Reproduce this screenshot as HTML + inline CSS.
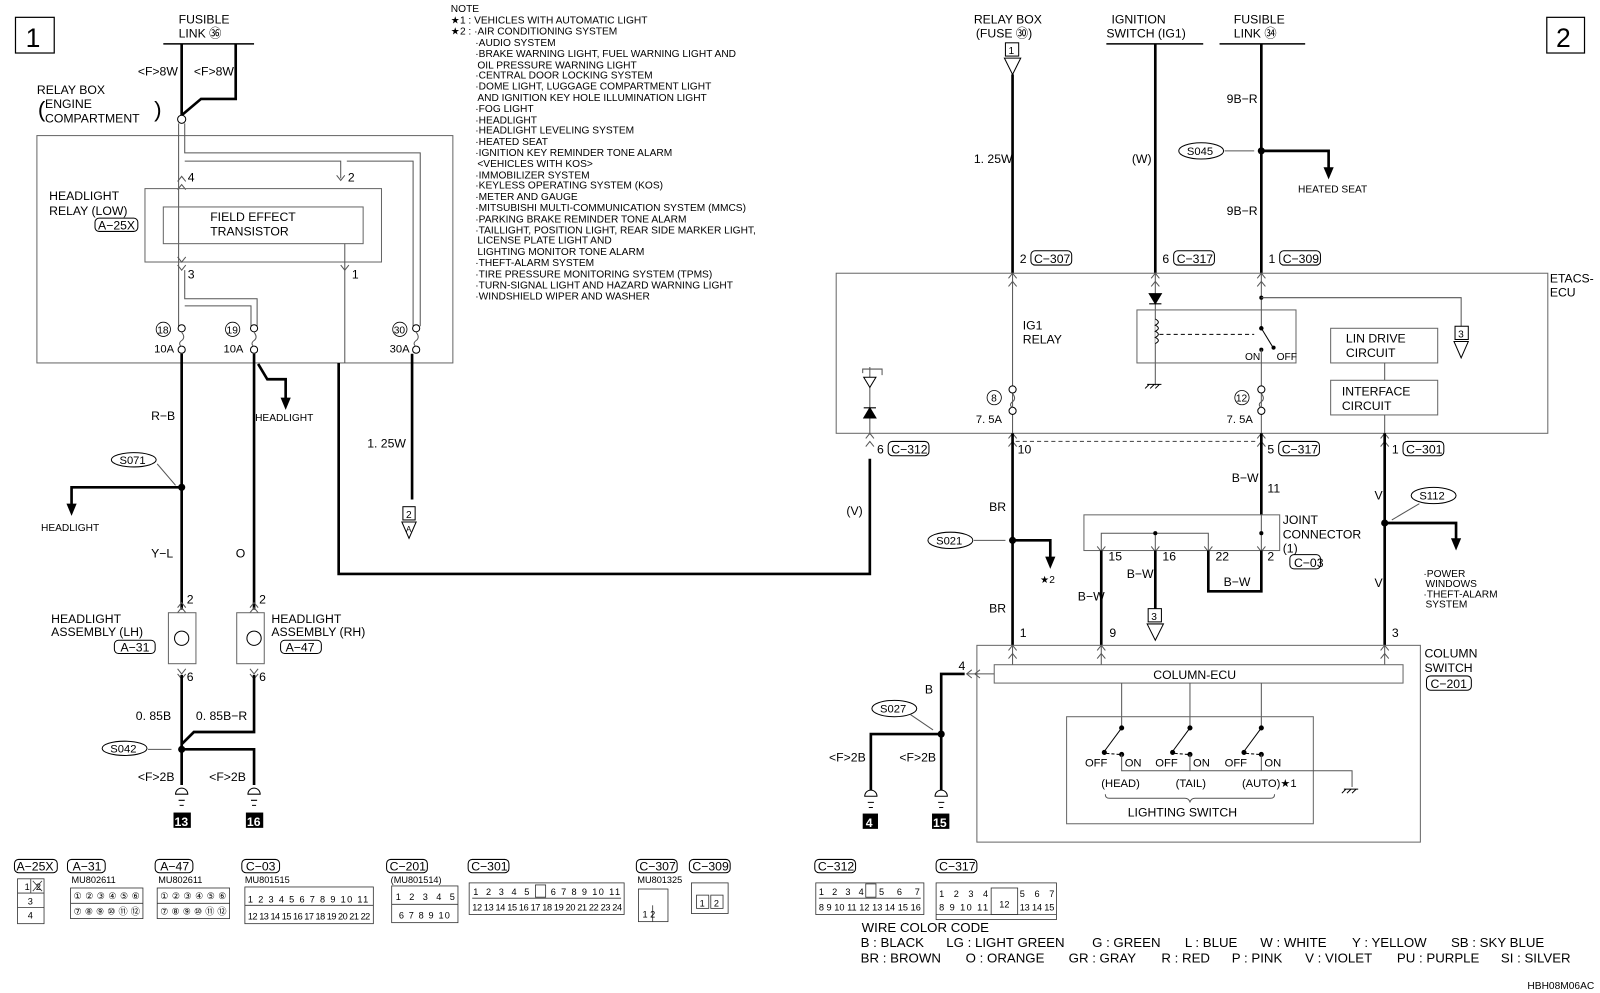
<!DOCTYPE html>
<html><head><meta charset="utf-8">
<style>
html,body{margin:0;padding:0;background:#fff;}
svg{display:block;}
text{font-family:"Liberation Sans",sans-serif;fill:#000;}
.s{font-size:12px;}
.n{font-size:10px;}
.c{font-family:"Liberation Sans Narrow","Liberation Sans",sans-serif;font-size:12px;}
.k{font-family:"Liberation Sans Narrow","Liberation Sans",sans-serif;font-size:9px;}
.th{stroke:#000;stroke-width:2.6;fill:none;}
.tn{stroke:#555;stroke-width:1;fill:none;}
.bx{stroke:#666;stroke-width:1;fill:none;}
.cb{stroke:#333;stroke-width:0.8;fill:none;}
</style></head>
<body>
<svg width="1600" height="993" viewBox="0 0 1569 974" xmlns="http://www.w3.org/2000/svg">
<rect x="0" y="0" width="1569" height="974" fill="#fff"/>
<rect x="15" y="17" width="38" height="35" fill="none" stroke="#000" stroke-width="1.2"/>
<text x="25" y="46" style="font-size:26px">1</text>
<rect x="1517" y="17" width="37" height="35" fill="none" stroke="#000" stroke-width="1.2"/>
<text x="1526" y="46" style="font-size:26px">2</text>

<text x="175" y="23" class="s">FUSIBLE</text>
<text x="175" y="37" class="s">LINK ㊱</text>
<line x1="160" y1="43" x2="249" y2="43" stroke="#000" stroke-width="1.5"/>
<polyline class="th" points="178,43 178,113"/>
<polyline class="th" points="231,43 231,97 197,97 178,113"/>
<text x="135" y="74" class="c">&lt;F&gt;8W</text>
<text x="190" y="74" class="c">&lt;F&gt;8W</text>
<circle cx="178" cy="117" r="4" fill="#fff" stroke="#000"/>
<text x="36" y="92" class="s">RELAY BOX</text>
<text x="37" y="115" style="font-size:22px">(</text>
<text x="44" y="106" class="s">ENGINE</text>
<text x="44" y="120" class="s">COMPARTMENT</text>
<text x="151" y="115" style="font-size:22px">)</text>

<rect x="36" y="133" width="408" height="223" class="bx"/>
<polyline class="tn" points="175,121 175,320"/>
<polyline class="tn" points="181,121 181,150 412,150 412,320"/>
<polyline class="tn" points="181,158 334,158 334,175"/>
<polyline class="tn" points="340,158 405,158 405,320"/>
<path class="tn" d="M174,178 l4,-5 l4,5 M174,186 l4,-5 l4,5"/>
<text x="184" y="178" class="s">4</text>
<path class="tn" d="M330,172 l4,5 l4,-5"/>
<text x="341" y="178" class="s">2</text>
<rect x="142" y="185" width="232" height="72" class="bx"/>
<text x="48" y="196" class="s">HEADLIGHT</text>
<text x="48" y="211" class="s">RELAY (LOW)</text>
<rect x="93" y="214" width="42" height="13" rx="4" fill="none" stroke="#000"/>
<text x="96" y="225" class="c">A−25X</text>
<rect x="160" y="203" width="196" height="36" class="bx"/>
<text x="206" y="217" class="s">FIELD EFFECT</text>
<text x="206" y="231" class="s">TRANSISTOR</text>
<path class="tn" d="M174,252 l4,5 l4,-5 M174,260 l4,5 l4,-5"/>
<text x="184" y="273" class="s">3</text>
<line x1="338" y1="239" x2="338" y2="356" class="tn"/>
<path class="tn" d="M334,260 l4,5 l4,-5"/>
<text x="345" y="273" class="s">1</text>
<polyline class="tn" points="181,265 181,293 252,293 252,320"/>
<polyline class="tn" points="181,300 246,300 246,320"/>
<g fill="#fff" stroke="#000">
<circle cx="178" cy="322" r="3.5"/><circle cx="178" cy="343" r="3.5"/>
<circle cx="249" cy="322" r="3.5"/><circle cx="249" cy="343" r="3.5"/>
<circle cx="408" cy="322" r="3.5"/><circle cx="408" cy="343" r="3.5"/>
</g>
<path class="tn" d="M178,326 q4,5 0,8 q-4,3 0,6 M249,326 q4,5 0,8 q-4,3 0,6 M408,326 q4,5 0,8 q-4,3 0,6"/>
<circle cx="160" cy="323" r="7" fill="none" stroke="#000" stroke-width="0.8"/><text x="154" y="327" class="n">18</text>
<circle cx="228" cy="323" r="7" fill="none" stroke="#000" stroke-width="0.8"/><text x="222" y="327" class="n">19</text>
<circle cx="392" cy="323" r="7" fill="none" stroke="#000" stroke-width="0.8"/><text x="386" y="327" class="n">30</text>
<text x="151" y="346" class="c" style="font-size:11px">10A</text>
<text x="219" y="346" class="c" style="font-size:11px">10A</text>
<text x="382" y="346" class="c" style="font-size:11px">30A</text>

<polyline class="th" points="178,347 178,598"/>
<text x="148" y="412" class="c">R−B</text>
<ellipse cx="131" cy="451" rx="22" ry="7" fill="none" stroke="#000"/><text x="117" y="455" class="c" style="font-size:11px">S071</text>
<line x1="154" y1="455" x2="172" y2="476" stroke="#555"/>
<circle cx="178" cy="478" r="3.5" fill="#000"/>
<polyline class="th" points="178,478 70,478 70,495"/>
<path d="M65,494 l5,12 l5,-12 z" fill="#000"/>
<text x="40" y="521" class="n">HEADLIGHT</text>
<text x="148" y="547" class="c">Y−L</text>

<polyline class="th" points="249,347 249,598"/>
<polyline class="th" points="253,357 262,372 280,372 280,392"/>
<path d="M275,390 l5,12 l5,-12 z" fill="#000"/>
<text x="250" y="413" class="n">HEADLIGHT</text>
<text x="231" y="547" class="c">O</text>

<polyline class="th" points="332,356 332,563 853,563 853,450"/>
<polyline class="th" points="404,347 404,490"/>
<text x="360" y="439" class="c">1. 25W</text>
<rect x="395" y="497" width="12" height="13" fill="none" stroke="#000"/><text x="398" y="508" class="n">2</text>
<path d="M394,512 l7,16 l7,-16 z" fill="none" stroke="#000"/><text x="398" y="522" style="font-size:8px">A</text>

<path class="tn" d="M174,596 l4,-5 l4,5 M174,601 l4,-5 l4,5"/>
<text x="183" y="592" class="s">2</text>
<rect x="165" y="601" width="27" height="50" class="bx"/>
<circle cx="178" cy="626" r="7" fill="none" stroke="#000"/>
<path class="tn" d="M174,656 l4,5 l4,-5 M174,661 l4,5 l4,-5"/>
<text x="183" y="668" class="s">6</text>
<text x="50" y="611" class="s">HEADLIGHT</text>
<text x="50" y="624" class="s">ASSEMBLY (LH)</text>
<rect x="112" y="628" width="40" height="13" rx="4" fill="none" stroke="#000"/><text x="118" y="639" class="c">A−31</text>

<path class="tn" d="M245,596 l4,-5 l4,5 M245,601 l4,-5 l4,5"/>
<text x="254" y="592" class="s">2</text>
<rect x="232" y="601" width="27" height="50" class="bx"/>
<circle cx="249" cy="626" r="7" fill="none" stroke="#000"/>
<path class="tn" d="M245,656 l4,5 l4,-5 M245,661 l4,5 l4,-5"/>
<text x="254" y="668" class="s">6</text>
<text x="266" y="611" class="s">HEADLIGHT</text>
<text x="266" y="624" class="s">ASSEMBLY (RH)</text>
<rect x="275" y="628" width="40" height="13" rx="4" fill="none" stroke="#000"/><text x="280" y="639" class="c">A−47</text>

<polyline class="th" points="178,662 178,770"/>
<polyline class="th" points="249,662 249,718 190,718 178,730"/>
<polyline class="th" points="178,735 249,735 249,770"/>
<text x="133" y="706" class="c">0. 85B</text>
<text x="192" y="706" class="c">0. 85B−R</text>
<ellipse cx="122" cy="734" rx="22" ry="7" fill="none" stroke="#000"/><text x="108" y="738" class="c" style="font-size:11px">S042</text>
<line x1="145" y1="735" x2="168" y2="735" stroke="#555"/>
<circle cx="178" cy="735" r="3.5" fill="#000"/>
<text x="135" y="766" class="c">&lt;F&gt;2B</text>
<text x="205" y="766" class="c">&lt;F&gt;2B</text>
<g stroke="#000" fill="none"><path d="M172,779 a6,6 0 0 1 12,0 z M175,785 h6 M176,790 h4"/><path d="M243,779 a6,6 0 0 1 12,0 z M246,785 h6 M247,790 h4"/></g>
<rect x="170" y="797" width="17" height="15" fill="#000"/><text x="171" y="810" style="font-size:12px;fill:#fff;font-weight:bold">13</text>
<rect x="241" y="797" width="17" height="15" fill="#000"/><text x="242" y="810" style="font-size:12px;fill:#fff;font-weight:bold">16</text>

<g style="font-size:10px">
<text x="442" y="12">NOTE</text>
<text x="442" y="23">★1 : VEHICLES WITH AUTOMATIC LIGHT</text>
<text x="442" y="34">★2 : ·AIR CONDITIONING SYSTEM</text>
<text x="466" y="45">·AUDIO SYSTEM</text>
<text x="466" y="56">·BRAKE WARNING LIGHT, FUEL WARNING LIGHT AND</text>
<text x="468" y="67">OIL PRESSURE WARNING LIGHT</text>
<text x="466" y="77">·CENTRAL DOOR LOCKING SYSTEM</text>
<text x="466" y="88">·DOME LIGHT, LUGGAGE COMPARTMENT LIGHT</text>
<text x="468" y="99">AND IGNITION KEY HOLE ILLUMINATION LIGHT</text>
<text x="466" y="110">·FOG LIGHT</text>
<text x="466" y="121">·HEADLIGHT</text>
<text x="466" y="131">·HEADLIGHT LEVELING SYSTEM</text>
<text x="466" y="142">·HEATED SEAT</text>
<text x="466" y="153">·IGNITION KEY REMINDER TONE ALARM</text>
<text x="468" y="164">&lt;VEHICLES WITH KOS&gt;</text>
<text x="466" y="175">·IMMOBILIZER SYSTEM</text>
<text x="466" y="185">·KEYLESS OPERATING SYSTEM (KOS)</text>
<text x="466" y="196">·METER AND GAUGE</text>
<text x="466" y="207">·MITSUBISHI MULTI-COMMUNICATION SYSTEM (MMCS)</text>
<text x="466" y="218">·PARKING BRAKE REMINDER TONE ALARM</text>
<text x="466" y="229">·TAILLIGHT, POSITION LIGHT, REAR SIDE MARKER LIGHT,</text>
<text x="468" y="239">LICENSE PLATE LIGHT AND</text>
<text x="468" y="250">LIGHTING MONITOR TONE ALARM</text>
<text x="466" y="261">·THEFT-ALARM SYSTEM</text>
<text x="466" y="272">·TIRE PRESSURE MONITORING SYSTEM (TPMS)</text>
<text x="466" y="283">·TURN-SIGNAL LIGHT AND HAZARD WARNING LIGHT</text>
<text x="466" y="294">·WINDSHIELD WIPER AND WASHER</text>
</g>

<text x="955" y="23" class="s">RELAY BOX</text>
<text x="957" y="37" class="s">(FUSE ㉚)</text>
<rect x="986" y="42" width="13" height="13" fill="none" stroke="#000"/><text x="989" y="53" class="n">1</text>
<path d="M985,57 l8,16 l8,-16 z" fill="none" stroke="#000"/>
<polyline class="th" points="993,73 993,268"/>
<text x="955" y="160" class="c">1. 25W</text>
<text x="1000" y="258" class="c">2</text><rect x="1011" y="246" width="40" height="14" rx="4" fill="none" stroke="#000"/><text x="1014" y="258" class="c">C−307</text>

<text x="1090" y="23" class="s">IGNITION</text>
<text x="1085" y="37" class="s">SWITCH (IG1)</text>
<line x1="1085" y1="43" x2="1180" y2="43" stroke="#000" stroke-width="1.5"/>
<polyline class="th" points="1133,43 1133,268"/>
<text x="1110" y="160" class="c">(W)</text>
<text x="1140" y="258" class="c">6</text><rect x="1151" y="246" width="40" height="14" rx="4" fill="none" stroke="#000"/><text x="1154" y="258" class="c">C−317</text>

<text x="1210" y="23" class="s">FUSIBLE</text>
<text x="1210" y="37" class="s">LINK ㉞</text>
<line x1="1196" y1="43" x2="1280" y2="43" stroke="#000" stroke-width="1.5"/>
<polyline class="th" points="1237,43 1237,268"/>
<text x="1203" y="101" class="c">9B−R</text>
<ellipse cx="1178" cy="148" rx="22" ry="8" fill="none" stroke="#000"/><text x="1164" y="152" class="c" style="font-size:11px">S045</text>
<line x1="1201" y1="148" x2="1230" y2="148" stroke="#555"/>
<circle cx="1237" cy="148" r="3.5" fill="#000"/>
<polyline class="th" points="1237,148 1303,148 1303,165"/>
<path d="M1298,164 l5,12 l5,-12 z" fill="#000"/>
<text x="1273" y="189" class="n">HEATED SEAT</text>
<text x="1203" y="211" class="c">9B−R</text>
<text x="1244" y="258" class="c">1</text><rect x="1255" y="246" width="40" height="14" rx="4" fill="none" stroke="#000"/><text x="1258" y="258" class="c">C−309</text>

<rect x="820" y="268" width="698" height="157" class="bx"/>
<text x="1520" y="277" class="s">ETACS-</text>
<text x="1520" y="291" class="s">ECU</text>
<path class="tn" d="M989,273 l4,-5 l4,5 M989,281 l4,-5 l4,5 M1129,273 l4,-5 l4,5 M1129,281 l4,-5 l4,5 M1233,273 l4,-5 l4,5 M1233,281 l4,-5 l4,5"/>
<line x1="993" y1="268" x2="993" y2="425" class="tn"/>
<circle cx="993" cy="382" r="3.5" fill="#fff" stroke="#000"/><circle cx="993" cy="403" r="3.5" fill="#fff" stroke="#000"/>
<circle cx="975" cy="390" r="7" fill="none" stroke="#000" stroke-width="0.8"/><text x="972" y="394" class="n">8</text>
<text x="957" y="415" class="c" style="font-size:11px">7. 5A</text>
<line x1="1133" y1="268" x2="1133" y2="378" class="tn"/>
<path d="M1127,288 h12 l-6,10 z M1127,298 h12" fill="#000" stroke="#000"/>
<rect x="1115" y="304" width="156" height="52" class="bx"/>
<path d="M1133,313 q6,3 0,6 q6,3 0,6 q6,3 0,6 q6,3 0,6" fill="#fff" stroke="#000"/>
<line x1="1137" y1="328" x2="1230" y2="328" stroke="#000" stroke-dasharray="4,3"/>
<path d="M1127,377 l-4,4 M1132,377 l-4,4 M1137,377 l-4,4 M1125,377 h14" stroke="#000"/>
<text x="1003" y="323" class="s">IG1</text>
<text x="1003" y="337" class="s">RELAY</text>
<line x1="1237" y1="268" x2="1237" y2="322" class="tn"/>
<circle cx="1237" cy="322" r="2.2" fill="#000"/>
<line x1="1237" y1="322" x2="1248" y2="340" stroke="#000"/>
<circle cx="1249" cy="341" r="2" fill="#000"/><circle cx="1237" cy="343" r="2" fill="#000"/>
<text x="1221" y="353" class="c" style="font-size:10px">ON</text><text x="1252" y="353" class="c" style="font-size:10px">OFF</text>
<line x1="1237" y1="343" x2="1237" y2="425" class="tn"/>
<circle cx="1237" cy="382" r="3.5" fill="#fff" stroke="#000"/><circle cx="1237" cy="403" r="3.5" fill="#fff" stroke="#000"/>
<path class="tn" d="M993,386 q4,5 0,8 q-4,3 0,6 M1237,386 q4,5 0,8 q-4,3 0,6"/>
<circle cx="1218" cy="390" r="7" fill="none" stroke="#000" stroke-width="0.8"/><text x="1212" y="394" class="n">12</text>
<text x="1203" y="415" class="c" style="font-size:11px">7. 5A</text>
<circle cx="1237" cy="292" r="2" fill="#000"/>
<polyline class="tn" points="1237,292 1433,292 1433,320"/>
<rect x="1427" y="320" width="13" height="13" fill="none" stroke="#000"/><text x="1430" y="331" class="n">3</text>
<path d="M1426,335 l7,16 l7,-16 z" fill="none" stroke="#000"/>
<rect x="1305" y="322" width="105" height="34" class="bx"/>
<text x="1320" y="336" class="s">LIN DRIVE</text><text x="1320" y="350" class="s">CIRCUIT</text>
<line x1="1358" y1="356" x2="1358" y2="373" class="tn"/>
<rect x="1305" y="373" width="105" height="34" class="bx"/>
<text x="1316" y="388" class="s">INTERFACE</text><text x="1316" y="402" class="s">CIRCUIT</text>
<line x1="1358" y1="407" x2="1358" y2="425" class="tn"/>
<line x1="853" y1="360" x2="853" y2="425" class="tn"/>
<path d="M847,370 h12 l-6,10 z" fill="#fff" stroke="#000"/>
<path d="M847,410 h12 l-6,-10 z M847,400 h12" fill="#000" stroke="#000"/>
<polyline class="tn" points="846,366 846,362 865,362 865,368"/>
<path class="tn" d="M849,430 l4,-5 l4,5 M849,438 l4,-5 l4,5 M989,430 l4,-5 l4,5 M989,438 l4,-5 l4,5 M1233,430 l4,-5 l4,5 M1233,438 l4,-5 l4,5 M1354,430 l4,-5 l4,5 M1354,438 l4,-5 l4,5"/>

<text x="860" y="445" class="c">6</text><rect x="871" y="433" width="40" height="14" rx="4" fill="none" stroke="#000"/><text x="874" y="445" class="c">C−312</text>
<text x="998" y="445" class="c">10</text>
<line x1="996" y1="433" x2="1234" y2="433" stroke="#555" stroke-dasharray="4,3"/>
<text x="1243" y="445" class="c">5</text><rect x="1254" y="433" width="40" height="14" rx="4" fill="none" stroke="#000"/><text x="1257" y="445" class="c">C−317</text>
<text x="1365" y="445" class="c">1</text><rect x="1376" y="433" width="40" height="14" rx="4" fill="none" stroke="#000"/><text x="1379" y="445" class="c">C−301</text>
<text x="830" y="505" class="c">(V)</text>

<polyline class="th" points="993,425 993,633"/>
<text x="970" y="501" class="c">BR</text>
<ellipse cx="932" cy="530" rx="22" ry="8" fill="none" stroke="#000"/><text x="918" y="534" class="c" style="font-size:11px">S021</text>
<line x1="955" y1="530" x2="986" y2="530" stroke="#555"/>
<circle cx="993" cy="530" r="3.5" fill="#000"/>
<polyline class="th" points="993,530 1030,530 1030,548"/>
<path d="M1025,546 l5,12 l5,-12 z" fill="#000"/>
<text x="1020" y="572" class="n">★2</text>
<text x="970" y="601" class="c">BR</text>
<text x="1000" y="625" class="c">1</text>

<polyline class="th" points="1237,425 1237,505"/>
<text x="1208" y="473" class="c">B−W</text>
<text x="1243" y="483" class="c">11</text>
<rect x="1063" y="505" width="192" height="35" class="bx"/>
<text x="1258" y="514" class="s">JOINT</text><text x="1258" y="528" class="s">CONNECTOR</text><text x="1258" y="542" class="s">(1)</text>
<rect x="1265" y="544" width="30" height="14" rx="4" fill="none" stroke="#000"/><text x="1269" y="556" class="c">C−03</text>
<polyline class="tn" points="1080,540 1080,523 1185,523 1185,540"/>
<line x1="1133" y1="523" x2="1133" y2="540" class="tn"/><circle cx="1133" cy="523" r="2" fill="#000"/>
<line x1="1237" y1="505" x2="1237" y2="540" class="tn"/><circle cx="1237" cy="523" r="2" fill="#000"/>
<path class="tn" d="M1076,536 l4,5 l4,-5 M1129,536 l4,5 l4,-5 M1181,536 l4,5 l4,-5 M1233,536 l4,5 l4,-5"/>
<text x="1087" y="550" class="c">15</text><text x="1140" y="550" class="c">16</text><text x="1192" y="550" class="c">22</text><text x="1243" y="550" class="c">2</text>
<polyline class="th" points="1080,540 1080,633"/>
<text x="1057" y="589" class="c">B−W</text>
<text x="1088" y="625" class="c">9</text>
<polyline class="th" points="1133,540 1133,597"/>
<text x="1105" y="567" class="c">B−W</text>
<rect x="1126" y="597" width="13" height="13" fill="none" stroke="#000"/><text x="1129" y="608" class="n">3</text>
<path d="M1125,612 l8,16 l8,-16 z" fill="none" stroke="#000"/>
<polyline class="th" points="1185,540 1185,580 1237,580 1237,540"/>
<text x="1200" y="575" class="c">B−W</text>

<polyline class="th" points="1358,425 1358,633"/>
<text x="1348" y="490" class="c">V</text>
<ellipse cx="1406" cy="486" rx="22" ry="8" fill="none" stroke="#000"/><text x="1392" y="490" class="c" style="font-size:11px">S112</text>
<line x1="1392" y1="494" x2="1365" y2="510" stroke="#555"/>
<circle cx="1358" cy="513" r="3.5" fill="#000"/>
<polyline class="th" points="1358,513 1428,513 1428,530"/>
<path d="M1423,528 l5,12 l5,-12 z" fill="#000"/>
<text x="1396" y="566" class="n">·POWER</text><text x="1398" y="576" class="n">WINDOWS</text><text x="1396" y="586" class="n">·THEFT-ALARM</text><text x="1398" y="596" class="n">SYSTEM</text>
<text x="1348" y="576" class="c">V</text>
<text x="1365" y="625" class="c">3</text>

<rect x="958" y="633" width="435" height="193" class="bx"/>
<path class="tn" d="M989,638 l4,-5 l4,5 M989,646 l4,-5 l4,5 M1076,638 l4,-5 l4,5 M1076,646 l4,-5 l4,5 M1354,638 l4,-5 l4,5 M1354,646 l4,-5 l4,5"/>
<line x1="993" y1="633" x2="993" y2="652" class="tn"/><line x1="1080" y1="633" x2="1080" y2="652" class="tn"/><line x1="1358" y1="633" x2="1358" y2="652" class="tn"/>
<text x="1397" y="645" class="s">COLUMN</text><text x="1397" y="659" class="s">SWITCH</text>
<rect x="1399" y="663" width="44" height="14" rx="4" fill="none" stroke="#000"/><text x="1403" y="675" class="c">C−201</text>
<rect x="975" y="652" width="401" height="18" class="bx"/>
<text x="1131" y="666" class="s">COLUMN-ECU</text>
<path class="tn" d="M953,657 l-5,4 l5,4 M961,657 l-5,4 l5,4"/>
<line x1="948" y1="661" x2="975" y2="661" class="tn"/>
<text x="940" y="657" class="c">4</text>
<polyline class="th" points="946,661 923,661 923,775"/>
<text x="907" y="680" class="c">B</text>
<ellipse cx="877" cy="695" rx="22" ry="8" fill="none" stroke="#000"/><text x="863" y="699" class="c" style="font-size:11px">S027</text>
<line x1="893" y1="701" x2="915" y2="716" stroke="#555"/>
<circle cx="923" cy="720" r="3.5" fill="#000"/>
<polyline class="th" points="923,720 854,720 854,775"/>
<text x="813" y="747" class="c">&lt;F&gt;2B</text>
<text x="882" y="747" class="c">&lt;F&gt;2B</text>
<g stroke="#000" fill="none"><path d="M848,781 a6,6 0 0 1 12,0 z M851,787 h6 M852,792 h4"/><path d="M917,781 a6,6 0 0 1 12,0 z M920,787 h6 M921,792 h4"/></g>
<rect x="846" y="798" width="15" height="15" fill="#000"/><text x="849" y="811" style="font-size:12px;fill:#fff;font-weight:bold">4</text>
<rect x="914" y="798" width="17" height="15" fill="#000"/><text x="915" y="811" style="font-size:12px;fill:#fff;font-weight:bold">15</text>

<g class="tn"><line x1="1100" y1="670" x2="1100" y2="714"/><line x1="1167" y1="670" x2="1167" y2="714"/><line x1="1237" y1="670" x2="1237" y2="714"/></g>
<rect x="1046" y="703" width="242" height="105" class="bx"/>
<g stroke="#000" fill="#000">
<circle cx="1100" cy="714" r="2"/><line x1="1100" y1="714" x2="1083" y2="737"/><circle cx="1083" cy="738" r="2"/><circle cx="1100" cy="740" r="2"/>
<circle cx="1167" cy="714" r="2"/><line x1="1167" y1="714" x2="1150" y2="737"/><circle cx="1150" cy="738" r="2"/><circle cx="1167" cy="740" r="2"/>
<circle cx="1237" cy="714" r="2"/><line x1="1237" y1="714" x2="1220" y2="737"/><circle cx="1220" cy="738" r="2"/><circle cx="1237" cy="740" r="2"/>
</g>
<g stroke="#000" stroke-dasharray="3,2" fill="none"><line x1="1085" y1="739" x2="1098" y2="740"/><line x1="1152" y1="739" x2="1165" y2="740"/><line x1="1222" y1="739" x2="1235" y2="740"/></g>
<polyline class="tn" points="1100,740 1100,756 1326,756 1326,772"/>
<line x1="1167" y1="740" x2="1167" y2="756" class="tn"/><line x1="1237" y1="740" x2="1237" y2="756" class="tn"/>
<path d="M1320,774 l-4,4 M1325,774 l-4,4 M1330,774 l-4,4 M1318,774 h14" stroke="#000"/>
<text x="1064" y="752" class="c" style="font-size:11px">OFF</text><text x="1103" y="752" class="c" style="font-size:11px">ON</text>
<text x="1133" y="752" class="c" style="font-size:11px">OFF</text><text x="1170" y="752" class="c" style="font-size:11px">ON</text>
<text x="1201" y="752" class="c" style="font-size:11px">OFF</text><text x="1240" y="752" class="c" style="font-size:11px">ON</text>
<text x="1080" y="772" style="font-size:11px">(HEAD)</text>
<text x="1153" y="772" style="font-size:11px">(TAIL)</text>
<text x="1218" y="772" style="font-size:11px">(AUTO)★1</text>
<path d="M1084,779 q0,4 4,4 h74 q4,0 5,4 q1,-4 5,-4 h74 q4,0 4,-4" fill="none" stroke="#555"/>
<text x="1106" y="801" class="s">LIGHTING SWITCH</text>

<g class="c">
<rect x="14" y="843" width="42" height="13" rx="4" fill="none" stroke="#000"/><text x="16" y="854">A−25X</text>
<rect x="66" y="843" width="37" height="13" rx="4" fill="none" stroke="#000"/><text x="71" y="854">A−31</text>
<rect x="152" y="843" width="37" height="13" rx="4" fill="none" stroke="#000"/><text x="157" y="854">A−47</text>
<rect x="237" y="843" width="37" height="13" rx="4" fill="none" stroke="#000"/><text x="241" y="854">C−03</text>
<rect x="379" y="843" width="40" height="13" rx="4" fill="none" stroke="#000"/><text x="382" y="854">C−201</text>
<rect x="459" y="843" width="40" height="13" rx="4" fill="none" stroke="#000"/><text x="462" y="854">C−301</text>
<rect x="624" y="843" width="40" height="13" rx="4" fill="none" stroke="#000"/><text x="627" y="854">C−307</text>
<rect x="676" y="843" width="40" height="13" rx="4" fill="none" stroke="#000"/><text x="679" y="854">C−309</text>
<rect x="799" y="843" width="40" height="13" rx="4" fill="none" stroke="#000"/><text x="802" y="854">C−312</text>
<rect x="918" y="843" width="40" height="13" rx="4" fill="none" stroke="#000"/><text x="921" y="854">C−317</text>
</g>
<g class="k">
<text x="70" y="866">MU802611</text><text x="155" y="866">MU802611</text><text x="240" y="866">MU801515</text><text x="383" y="866">(MU801514)</text><text x="625" y="866">MU801325</text>
</g>
<g class="cb">
<rect x="17" y="862" width="26" height="44"/><line x1="17" y1="876" x2="43" y2="876"/><line x1="17" y1="890" x2="43" y2="890"/><line x1="30" y1="862" x2="30" y2="876"/><path d="M32,864 l9,10 M41,864 l-9,10"/>
<rect x="69" y="871" width="71" height="30"/><line x1="69" y1="886" x2="140" y2="886"/>
<rect x="154" y="871" width="71" height="30"/><line x1="154" y1="886" x2="225" y2="886"/>
<rect x="240" y="870" width="126" height="36"/><line x1="240" y1="888" x2="366" y2="888"/>
<rect x="384" y="869" width="65" height="36"/><line x1="384" y1="887" x2="449" y2="887"/>
<rect x="460" y="866" width="152" height="31"/><line x1="463" y1="881" x2="609" y2="881"/><rect x="525" y="868" width="10" height="12"/>
<rect x="626" y="872" width="29" height="32"/><line x1="640" y1="888" x2="640" y2="904"/>
<rect x="678" y="866" width="36" height="30"/><rect x="683" y="878" width="12" height="13"/><rect x="697" y="878" width="12" height="13"/>
<rect x="800" y="866" width="106" height="31"/><line x1="803" y1="881" x2="903" y2="881"/><rect x="849" y="867" width="10" height="13"/>
<rect x="918" y="866" width="118" height="36"/><line x1="918" y1="897" x2="1036" y2="897"/><rect x="972" y="871" width="26" height="26"/>
</g>
<g class="k">
<text x="24" y="873">1</text><text x="35" y="873">2</text><text x="27" y="887">3</text><text x="27" y="901">4</text>
<text x="72" y="882" textLength="65" lengthAdjust="spacing">①②③④⑤⑥</text><text x="72" y="897" textLength="65" lengthAdjust="spacing">⑦⑧⑨⑩⑪⑫</text>
<text x="157" y="882" textLength="65" lengthAdjust="spacing">①②③④⑤⑥</text><text x="157" y="897" textLength="65" lengthAdjust="spacing">⑦⑧⑨⑩⑪⑫</text>
<text x="243" y="885" textLength="118" lengthAdjust="spacing">1 2 3 4 5 6 7 8 9 10 11</text><text x="243" y="902" textLength="120" lengthAdjust="spacing">12 13 14 15 16 17 18 19 20 21 22</text>
<text x="388" y="883" textLength="58" lengthAdjust="spacing">1 2 3 4 5</text><text x="391" y="901" textLength="50" lengthAdjust="spacing">6 7 8 9 10</text>
<text x="464" y="878" textLength="55" lengthAdjust="spacing">1 2 3 4 5</text><text x="540" y="878" textLength="68" lengthAdjust="spacing">6 7 8 9 10 11</text><text x="463" y="893" textLength="147" lengthAdjust="spacing">12 13 14 15 16 17 18 19 20 21 22 23 24</text>
<text x="630" y="900">1 2</text>
<text x="686" y="889">1</text><text x="700" y="889">2</text>
<text x="803" y="878" textLength="44" lengthAdjust="spacing">1 2 3 4</text><text x="862" y="878" textLength="40" lengthAdjust="spacing">5 6 7</text><text x="803" y="893" textLength="100" lengthAdjust="spacing">8 9 10 11 12 13 14 15 16</text>
<text x="921" y="880" textLength="48" lengthAdjust="spacing">1 2 3 4</text><text x="1000" y="880" textLength="34" lengthAdjust="spacing">5 6 7</text>
<text x="921" y="893" textLength="48" lengthAdjust="spacing">8 9 10 11</text><text x="980" y="890">12</text><text x="1000" y="893" textLength="34" lengthAdjust="spacing">13 14 15</text>
</g>

<g style="font-size:13px">
<text x="845" y="914">WIRE COLOR CODE</text>
<text y="929"><tspan x="844">B : BLACK</tspan><tspan x="928">LG : LIGHT GREEN</tspan><tspan x="1071">G : GREEN</tspan><tspan x="1162">L : BLUE</tspan><tspan x="1236">W : WHITE</tspan><tspan x="1326">Y : YELLOW</tspan><tspan x="1423">SB : SKY BLUE</tspan></text>
<text y="944"><tspan x="844">BR : BROWN</tspan><tspan x="947">O : ORANGE</tspan><tspan x="1048">GR : GRAY</tspan><tspan x="1139">R : RED</tspan><tspan x="1208">P : PINK</tspan><tspan x="1280">V : VIOLET</tspan><tspan x="1370">PU : PURPLE</tspan><tspan x="1472">SI : SILVER</tspan></text>
</g>
<text x="1498" y="970" class="c" style="font-size:10px">HBH08M06AC</text>
</svg>
</body></html>
